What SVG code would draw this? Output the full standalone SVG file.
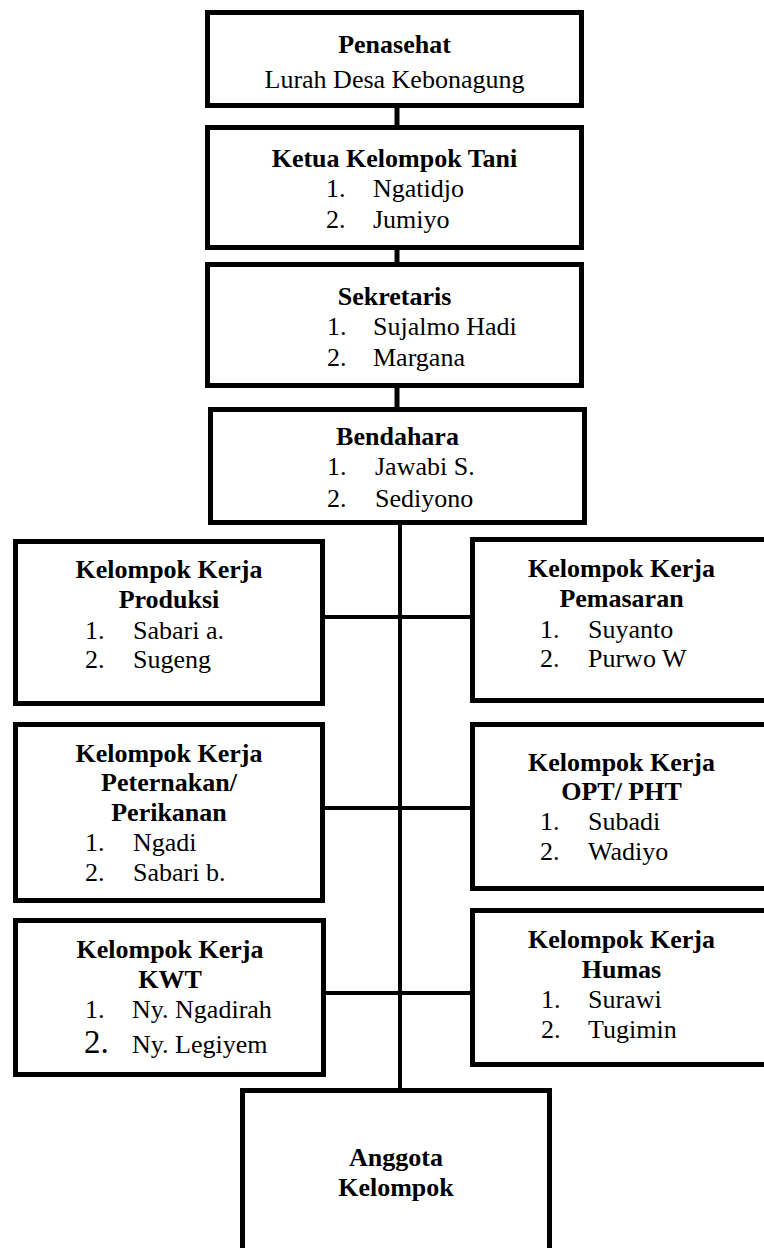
<svg xmlns="http://www.w3.org/2000/svg" width="764" height="1248" viewBox="0 0 764 1248">
<style>
.box{fill:#fff;stroke:#000;stroke-width:5}
.con{stroke:#000;fill:none}
text{font-family:"Liberation Serif","Times New Roman",serif;font-size:26px;fill:#000}
.b{font-weight:bold;text-anchor:middle}
.c{text-anchor:middle}
</style>
<rect width="764" height="1248" fill="#fff"/>
<g id="connectors">
<line class="con" x1="397" y1="106" x2="397" y2="127" stroke-width="5"/>
<line class="con" x1="397" y1="248" x2="397" y2="264" stroke-width="5"/>
<line class="con" x1="397" y1="386" x2="397" y2="409" stroke-width="5"/>
<line class="con" x1="400" y1="523" x2="400" y2="1090" stroke-width="4"/>
<line class="con" x1="323" y1="617" x2="472" y2="617" stroke-width="4"/>
<line class="con" x1="323" y1="808" x2="472" y2="808" stroke-width="4"/>
<line class="con" x1="324" y1="993" x2="472" y2="993" stroke-width="4"/>
</g>
<g id="penasehat">
<rect class="box" x="207.5" y="12.5" width="374" height="93"/>
<text class="b" x="394.5" y="53">Penasehat</text>
<text class="c" x="394.5" y="88">Lurah Desa Kebonagung</text>
</g>
<g id="ketua">
<rect class="box" x="207.5" y="127.5" width="374" height="120"/>
<text class="b" x="394.5" y="167">Ketua Kelompok Tani</text>
<text x="326" y="197">1.</text><text x="373" y="197">Ngatidjo</text>
<text x="326" y="228">2.</text><text x="373" y="228">Jumiyo</text>
</g>
<g id="sekretaris">
<rect class="box" x="207.5" y="264.5" width="374" height="121"/>
<text class="b" x="394.5" y="305">Sekretaris</text>
<text x="327" y="335">1.</text><text x="373" y="335">Sujalmo Hadi</text>
<text x="327" y="366">2.</text><text x="373" y="366">Margana</text>
</g>
<g id="bendahara">
<rect class="box" x="210.5" y="409.5" width="374" height="113"/>
<text class="b" x="397.5" y="445">Bendahara</text>
<text x="327" y="475">1.</text><text x="375" y="475">Jawabi S.</text>
<text x="327" y="507">2.</text><text x="375" y="507">Sediyono</text>
</g>
<g id="produksi">
<rect class="box" x="15.5" y="541.5" width="307" height="162"/>
<text class="b" x="169" y="578">Kelompok Kerja</text>
<text class="b" x="169" y="608">Produksi</text>
<text x="85" y="639">1.</text><text x="133" y="639">Sabari a.</text>
<text x="85" y="668">2.</text><text x="133" y="668">Sugeng</text>
</g>
<g id="pemasaran">
<rect class="box" x="472.5" y="539.5" width="298" height="161"/>
<text class="b" x="621.5" y="577">Kelompok Kerja</text>
<text class="b" x="621.5" y="607">Pemasaran</text>
<text x="540" y="638">1.</text><text x="588" y="638">Suyanto</text>
<text x="540" y="667">2.</text><text x="588" y="667">Purwo W</text>
</g>
<g id="peternakan">
<rect class="box" x="15.5" y="724.5" width="307" height="176"/>
<text class="b" x="169" y="762">Kelompok Kerja</text>
<text class="b" x="169" y="791">Peternakan/</text>
<text class="b" x="169" y="821">Perikanan</text>
<text x="85" y="851">1.</text><text x="133" y="851">Ngadi</text>
<text x="85" y="881">2.</text><text x="133" y="881">Sabari b.</text>
</g>
<g id="opt-pht">
<rect class="box" x="472.5" y="724.5" width="298" height="164"/>
<text class="b" x="621.5" y="771">Kelompok Kerja</text>
<text class="b" x="621.5" y="800">OPT/ PHT</text>
<text x="540" y="830">1.</text><text x="588" y="830">Subadi</text>
<text x="540" y="860">2.</text><text x="588" y="860">Wadiyo</text>
</g>
<g id="kwt">
<rect class="box" x="15.5" y="920.5" width="308" height="154"/>
<text class="b" x="170" y="958">Kelompok Kerja</text>
<text class="b" x="170" y="988">KWT</text>
<text x="85" y="1018">1.</text><text x="132" y="1018">Ny. Ngadirah</text>
<text x="84" y="1053" style="font-size:33px">2.</text><text x="132" y="1053">Ny. Legiyem</text>
</g>
<g id="humas">
<rect class="box" x="472.5" y="910.5" width="298" height="154"/>
<text class="b" x="621.5" y="948">Kelompok Kerja</text>
<text class="b" x="621.5" y="978">Humas</text>
<text x="541" y="1008">1.</text><text x="588" y="1008">Surawi</text>
<text x="541" y="1038">2.</text><text x="588" y="1038">Tugimin</text>
</g>
<g id="anggota">
<rect class="box" x="242.5" y="1090.5" width="307" height="170"/>
<text class="b" x="396" y="1166">Anggota</text>
<text class="b" x="396" y="1196">Kelompok</text>
</g>
</svg>
